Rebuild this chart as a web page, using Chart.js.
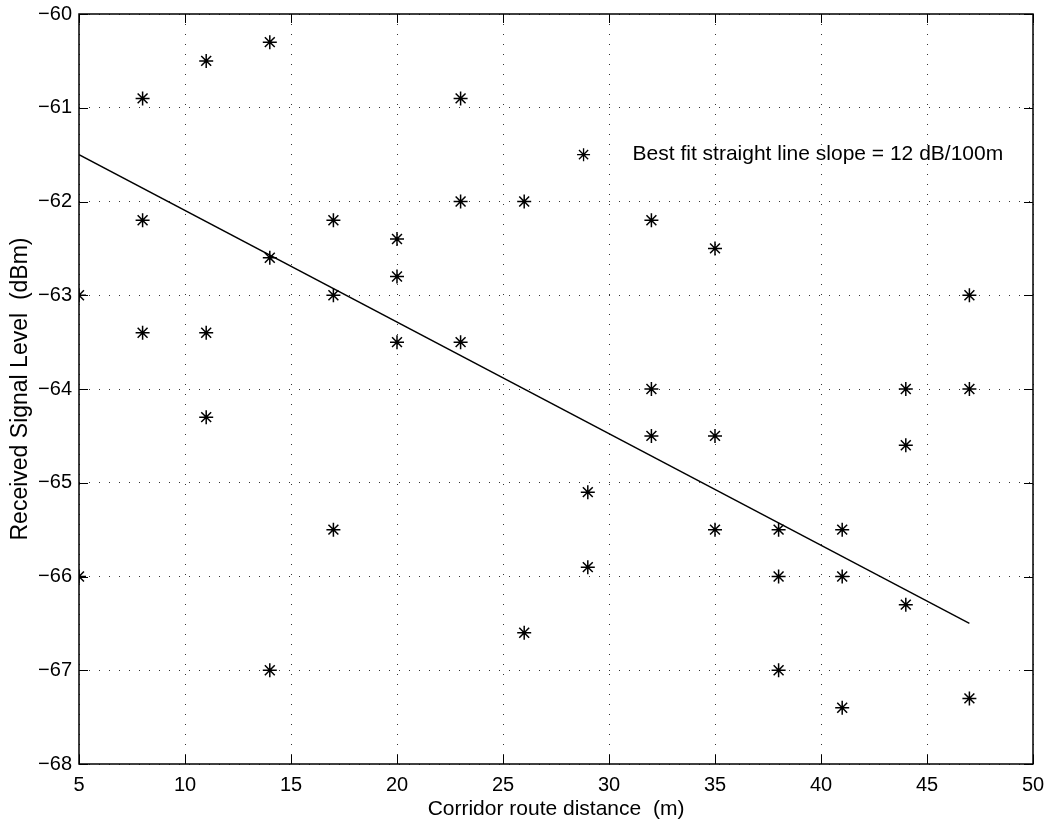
<!DOCTYPE html>
<html>
<head>
<meta charset="utf-8">
<script src="https://cdn.jsdelivr.net/npm/chart.js@4.4.1/dist/chart.umd.min.js"></script>
<style>
  body { margin: 0; background: #fff; }
  #wrap { width: 1047px; height: 827px; position: relative; }
</style>
</head>
<body>
<div id="wrap"><canvas id="signalChart"></canvas></div>
<script>
// measured points: distance (m) and received level (dBm)
const distances = [5, 5, 8, 8, 8, 11, 11, 11, 14, 14, 14, 17, 17, 17, 20, 20, 20, 23, 23, 23,
                   26, 26, 29, 29, 32, 32, 32, 35, 35, 35, 38, 38, 38, 41, 41, 41, 44, 44, 44, 47, 47, 47];
const levels = [-63, -66, -60.9, -62.2, -63.4, -60.5, -63.4, -64.3, -60.3, -62.6, -67, -62.2, -63, -65.5,
                -62.4, -62.8, -63.5, -60.9, -62, -63.5, -62, -66.6, -65.1, -65.9, -62.2, -64, -64.5,
                -62.5, -64.5, -65.5, -65.5, -66, -67, -65.5, -66, -67.4, -64, -64.6, -66.3, -63, -64, -67.3];

// best fit line end points
const fitX = [5, 47];
const fitY = [-61.5, -66.5];

// legend marker + text (data coords)
const legendX = [28.8];
const legendY = [-61.5];
const legendText = 'Best fit straight line slope = 12 dB/100m';

const xTicks = [5, 10, 15, 20, 25, 30, 35, 40, 45, 50];
const yTicks = [-60, -61, -62, -63, -64, -65, -66, -67, -68];

const FONT = 'Liberation Sans, Arial, Helvetica, sans-serif';

let points = distances.map((d, i) => ({ x: d, y: levels[i] }));
let fitLine = fitX.map((d, i) => ({ x: d, y: fitY[i] }));
let legendPt = legendX.map((d, i) => ({ x: d, y: legendY[i] }));

// box + inward ticks + legend text
const matlabAxes = {
    id: 'matlabAxes',
    afterDraw(chart) {
        let ctx = chart.ctx;
        let a = chart.chartArea;
        let xs = chart.scales.x, ys = chart.scales.y;
        let len = 9;
        ctx.save();
        ctx.strokeStyle = '#000';
        ctx.lineWidth = 1.5;
        ctx.strokeRect(a.left, a.top, a.right - a.left, a.bottom - a.top);
        ctx.lineWidth = 1;
        ctx.beginPath();
        xTicks.forEach(t => {
            let px = Math.round(xs.getPixelForValue(t)) + 0.5;
            ctx.moveTo(px, a.bottom); ctx.lineTo(px, a.bottom - len);
            ctx.moveTo(px, a.top); ctx.lineTo(px, a.top + len);
        });
        yTicks.forEach(t => {
            let py = Math.round(ys.getPixelForValue(t)) + 0.5;
            ctx.moveTo(a.left, py); ctx.lineTo(a.left + len, py);
            ctx.moveTo(a.right, py); ctx.lineTo(a.right - len, py);
        });
        ctx.stroke();

        ctx.fillStyle = '#000';
        ctx.font = '21px ' + FONT;
        ctx.textBaseline = 'middle';
        ctx.textAlign = 'left';
        ctx.fillText(legendText, xs.getPixelForValue(legendX[0]) + 49, ys.getPixelForValue(legendY[0]));
        ctx.restore();
    }
};

new Chart(document.getElementById('signalChart'), {
    type: 'scatter',
    data: {
        datasets: [
            {
                label: 'measured',
                data: points,
                pointStyle: 'star',
                pointRadius: 7,
                pointBorderWidth: 1.5,
                borderColor: '#000',
                backgroundColor: '#000',
                showLine: false
            },
            {
                label: 'fit',
                type: 'line',
                data: fitLine,
                borderColor: '#000',
                borderWidth: 1.4,
                pointRadius: 0,
                fill: false
            },
            {
                label: 'legend',
                data: legendPt,
                pointStyle: 'star',
                pointRadius: 6.5,
                pointBorderWidth: 1.3,
                borderColor: '#000',
                backgroundColor: '#000'
            }
        ]
    },
    options: {
        responsive: true,
        maintainAspectRatio: false,
        animation: false,
        layout: { padding: { top: 14, right: 14, left: 0, bottom: 0 } },
        plugins: {
            legend: { display: false },
            tooltip: { enabled: false }
        },
        scales: {
            x: {
                type: 'linear',
                min: 5,
                max: 50,
                afterBuildTicks: s => { s.ticks = xTicks.map(v => ({ value: v })); },
                afterFit: s => { s.height = 63; s.paddingLeft = 0; s.paddingRight = 0; },
                border: { display: false, dash: [1, 9] },
                grid: {
                    drawTicks: false,
                    color: '#333',
                    lineWidth: 1
                },
                ticks: {
                    color: '#000',
                    font: { family: FONT, size: 20 },
                    padding: 9,
                    maxRotation: 0
                },
                title: {
                    display: true,
                    text: 'Corridor route distance  (m)',
                    color: '#000',
                    font: { family: FONT, size: 21 },
                    padding: { top: 0, bottom: 5 }
                }
            },
            y: {
                type: 'linear',
                min: -68,
                max: -60,
                afterBuildTicks: s => { s.ticks = yTicks.map(v => ({ value: v })); },
                afterFit: s => { s.width = 79; s.paddingTop = 0; s.paddingBottom = 0; },
                border: { display: false, dash: [1, 9] },
                grid: {
                    drawTicks: false,
                    color: '#333',
                    lineWidth: 1
                },
                ticks: {
                    color: '#000',
                    font: { family: FONT, size: 20 },
                    padding: 7,
                    callback: v => String(v).replace('-', '\u2212')
                },
                title: {
                    display: true,
                    text: 'Received Signal Level  (dBm)',
                    color: '#000',
                    font: { family: FONT, size: 23 },
                    padding: { top: 7, bottom: 0 }
                }
            }
        }
    },
    plugins: [matlabAxes]
});
</script>
</body>
</html>
